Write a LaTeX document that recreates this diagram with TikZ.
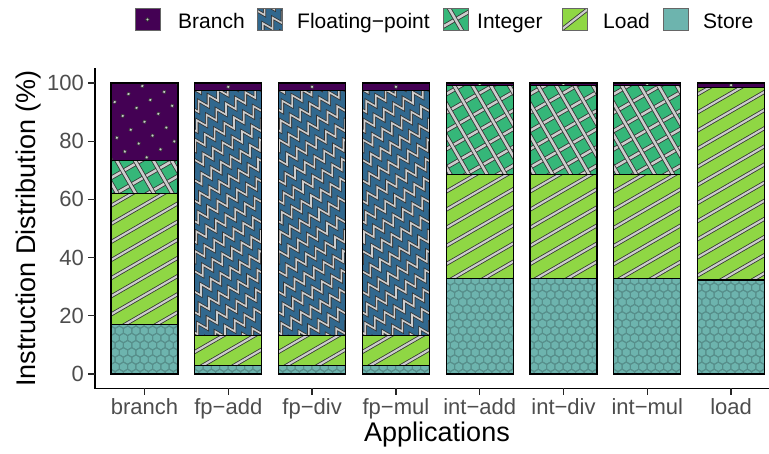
\documentclass[tikz,border=0pt]{standalone}
\usepackage{fontspec}
\setmainfont{Liberation Sans}
\definecolor{brcol}{HTML}{440154}
\definecolor{fpcol}{HTML}{31688E}
\definecolor{intcol}{HTML}{35B779}
\definecolor{ldcol}{HTML}{8FD744}
\definecolor{stcol}{HTML}{6DB4AE}
\definecolor{hexcol}{HTML}{578F8B}
\definecolor{patgray}{HTML}{CCCCCC}
\definecolor{patedge}{HTML}{333333}
\definecolor{ticktext}{HTML}{4D4D4D}

% pattern fills; \mx,\my = centre of the segment, \xa,\ya = lower left corner
\newcommand\patld{%
  \begin{scope}[shift={(\mx,\my)},rotate=30]
    \foreach \k in {-9,...,9}{\draw[hatch] (-150,\k*15.7) -- (150,\k*15.7);}
  \end{scope}}
\newcommand\patint{%
  \begin{scope}[shift={(\mx,\my)},rotate=30]
    \foreach \k in {-9,...,9}{\draw[xhatch] (-150,\k*15.9) -- (150,\k*15.9);}
    \foreach \k in {-9,...,9}{\draw[xhatch] (\k*15.9,-150) -- (\k*15.9,150);}
  \end{scope}}
\newcommand\patfp{%
  \begin{scope}[shift={(\mx,\my)},rotate=30]
    \foreach \k in {-10,...,10}{%
      \draw[zig] (-160,\k*16) \foreach \i in {1,...,58}{ -- ({-160+\i*5.6},{\k*16+9.7*mod(\i,2)}) };}
  \end{scope}}
\newcommand\patbr{%
  \begin{scope}[shift={(\mx,\my)},rotate=30]
    \foreach \i in {-5,...,5}{\foreach \j in {-5,...,5}{\fill[dot] (\i*16,\j*16) circle (1.9);}}
  \end{scope}}
\newcommand\patst{%
  \foreach \j in {0,...,14}{\foreach \i in {-1,...,8}{%
    \pgfmathsetmacro\hx{\xa+\i*8.31+mod(\j,2)*4.155}%
    \pgfmathsetmacro\hy{\ya-\j*7.2}%
    \draw[hexline] (\hx,\hy) +(30:4.8) -- +(90:4.8) -- +(150:4.8) -- +(210:4.8) -- +(270:4.8) -- +(330:4.8) -- cycle;}}}

% one stacked segment: centre x, lower %, upper %, kind
\newcommand\seg[4]{%
  \pgfmathsetmacro\xa{#1-33.5}\pgfmathsetmacro\xb{#1+33.5}%
  \pgfmathsetmacro\ya{374-2.91*#2}\pgfmathsetmacro\yb{374-2.91*#3}%
  \pgfmathsetmacro\mx{#1}\pgfmathsetmacro\my{(\ya+\yb)/2}%
  \fill[#4col] (\xa,\ya) rectangle (\xb,\yb);
  \begin{scope}\clip (\xa,\ya) rectangle (\xb,\yb); \csname pat#4\endcsname\end{scope}
  \draw[segline] (\xa,\ya) rectangle (\xb,\yb);}

\begin{document}
\begin{tikzpicture}[x=1pt,y=-1pt,
  hatch/.style={line width=0.8, draw=patedge, double=patgray, double distance=2.2},
  xhatch/.style={line width=0.8, draw=patedge, double=patgray, double distance=2.6},
  zig/.style={line width=0.8, draw=patedge, double=patgray, double distance=1.6},
  dot/.style={fill=patgray, draw=patedge, line width=0.6},
  hexline/.style={draw=hexcol, line width=1},
  segline/.style={draw=black, line width=1.1},
  axisline/.style={draw=black, line width=1.5},
  tickline/.style={draw=black!85, line width=1.3},
  ticklab/.style={text=ticktext, font=\fontsize{22}{22}\selectfont, inner sep=0},
  axtitle/.style={text=black, font=\fontsize{27}{27}\selectfont, inner sep=0},
  legtext/.style={text=black, font=\fontsize{21}{21}\selectfont, inner sep=0, anchor=base west},
  keybox/.style={draw=black!60, line width=0.8}]
\useasboundingbox (0,0) rectangle (769,454);

% stacked bars
\foreach \cx/\s/\l/\n in {144.5/17.1/62/73.4, 479.7/32.7/68.6/99.2, 563.5/32.7/68.6/99.2, 647.3/32.7/68.6/99.2}{%
  \seg{\cx}{0}{\s}{st}\seg{\cx}{\s}{\l}{ld}\seg{\cx}{\l}{\n}{int}\seg{\cx}{\n}{100}{br}}
\foreach \cx in {228.3,312.1,395.9}{%
  \seg{\cx}{0}{2.8}{st}\seg{\cx}{2.8}{13.2}{ld}\seg{\cx}{13.2}{97.4}{fp}\seg{\cx}{97.4}{100}{br}}
\seg{731.1}{0}{32.3}{st}\seg{731.1}{32.3}{98.5}{ld}\seg{731.1}{98.5}{100}{br}

% axes
\coordinate (top) at (95,68.5);
\coordinate (origin) at (95,388.5);
\coordinate (right) at (769,388.5);
\draw[axisline] (top) -- (origin) -- (right);

% y ticks and labels
\foreach \v in {0,20,...,100}{%
  \pgfmathsetmacro\ty{374-2.91*\v}
  \coordinate (yt\v) at (95,\ty);
  \draw[tickline] (yt\v) -- ++(-7,0);
  \node[ticklab, anchor=east] (ylab\v) at (84,\ty) {\v};}

% x ticks and labels
\foreach \cx/\lab [count=\c] in {144.5/branch, 228.3/fp{\char"2212}add, 312.1/fp{\char"2212}div, 395.9/fp{\char"2212}mul, 479.7/int{\char"2212}add, 563.5/int{\char"2212}div, 647.3/int{\char"2212}mul, 731.1/load}{%
  \coordinate (xt\c) at (\cx,388.5);
  \draw[tickline] (xt\c) -- ++(0,7);
  \node[ticklab, anchor=base] (xlab\c) at (\cx,415) {\lab};}

% axis titles
\node[axtitle, anchor=base] (xtitle) at (437,442) {Applications};
\node[axtitle, rotate=90, anchor=base] (ytitle) at (35,228.5) {Instruction Distribution (\%)};

% legend
\def\ky{8.5}\def\kh{22}\def\kw{25}\def\kc{19.5}
% Branch
\fill[brcol] (135,\ky) rectangle ++(\kw,\kh);
\fill[dot] (147.5,\kc) circle (1.9);
\draw[keybox] (135,\ky) rectangle ++(\kw,\kh);
\node[legtext] (lbr) at (178,29) {Branch};
% Floating-point
\fill[fpcol] (257,\ky) rectangle ++(\kw,\kh);
\begin{scope}
  \clip (257,\ky) rectangle ++(\kw,\kh);
  \begin{scope}[shift={(269.5,\kc)},rotate=30]
    \foreach \k in {-1,0,1}{\draw[zig] (-30,\k*16) \foreach \i in {1,...,12}{ -- ({-30+\i*5.6},{\k*16+9.7*mod(\i,2)}) };}
  \end{scope}
\end{scope}
\draw[keybox] (257,\ky) rectangle ++(\kw,\kh);
\node[legtext] (lfp) at (297,29) {Floating{\char"2212}point};
% Integer
\fill[intcol] (443,\ky) rectangle ++(\kw,\kh);
\begin{scope}
  \clip (443,\ky) rectangle ++(\kw,\kh);
  \begin{scope}[shift={(455.5,\kc)},rotate=30]
    \draw[xhatch] (-30,0) -- (30,0);
    \draw[xhatch] (0,-30) -- (0,30);
  \end{scope}
\end{scope}
\draw[keybox] (443,\ky) rectangle ++(\kw,\kh);
\node[legtext] (lint) at (477,29) {Integer};
% Load
\fill[ldcol] (562,\ky) rectangle ++(\kw,\kh);
\begin{scope}
  \clip (562,\ky) rectangle ++(\kw,\kh);
  \begin{scope}[shift={(574.5,\kc)},rotate=38]
    \draw[hatch] (-30,0) -- (30,0);
  \end{scope}
\end{scope}
\draw[keybox] (562,\ky) rectangle ++(\kw,\kh);
\node[legtext] (lld) at (603,29) {Load};
% Store
\fill[stcol] (663,\ky) rectangle ++(\kw,\kh);
\draw[keybox] (663,\ky) rectangle ++(\kw,\kh);
\node[legtext] (lst) at (703,29) {Store};
\end{tikzpicture}
\end{document}
